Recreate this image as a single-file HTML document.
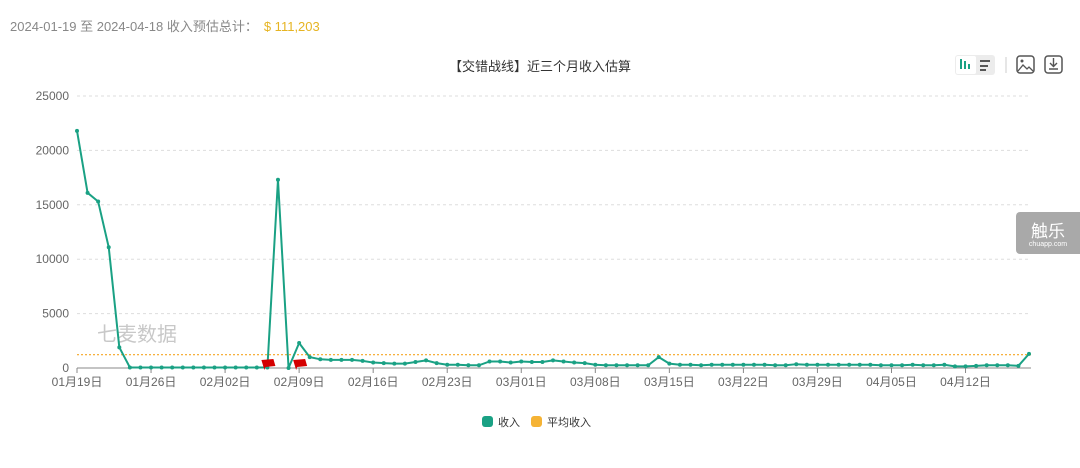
<!DOCTYPE html>
<html><head><meta charset="utf-8">
<style>
body{margin:0;background:#fff;font-family:"Liberation Sans","Noto Sans CJK SC",sans-serif;}
#wrap{position:relative;width:1080px;height:468px;overflow:hidden;}
.hdr{position:absolute;left:10px;top:16px;font-size:13px;color:#888;}
.hdr span{color:#e6b422;margin-left:6px;}
.badge{position:absolute;left:1016px;top:212px;width:64px;height:42px;background:#a9a9a9;border-radius:4px 0 0 4px;color:#fff;text-align:center;}
</style></head><body>
<div id="wrap">
<div class="hdr">2024-01-19 至 2024-04-18 收入预估总计：<span>$ 111,203</span></div>
<svg id="chart" width="1080" height="468" style="position:absolute;left:0;top:0"></svg>
<div class="badge"><div style="font-size:17px;margin-top:5px">触乐</div><div style="font-size:7px;margin-top:-1px">chuapp.com</div></div>
</div>
<script>
const revenue=[21800,16100,15300,11100,1900,50,50,50,50,50,50,50,50,50,50,50,50,50,50,17300,0,2300,1000,800,750,750,750,650,500,450,400,400,550,700,450,300,300,250,250,600,600,500,600,550,550,700,600,500,450,300,250,250,250,250,250,1000,400,300,300,250,300,300,300,300,300,300,250,250,350,300,300,300,300,300,300,300,250,250,250,300,250,250,300,150,150,200,250,250,250,200,1300];
const avgRevenue=1222;
const yTicks=[0,5000,10000,15000,20000,25000];
const xTickLabels=["01月19日","01月26日","02月02日","02月09日","02月16日","02月23日","03月01日","03月08日","03月15日","03月22日","03月29日","04月05日","04月12日"];
const xTickIdx=[0,7,14,21,28,35,42,49,56,63,70,77,84];
const flagIdx=[18,21];

const NS="http://www.w3.org/2000/svg";
const svg=document.getElementById('chart');
const X0=77,X1=1029,Y0=368,Y1=96,YMAX=25000;
const xs=i=>X0+(X1-X0)*i/(revenue.length-1);
const ys=v=>Y0-(Y0-Y1)*v/YMAX;
function mk(t,a,txt){const e=document.createElementNS(NS,t);for(const k in a)e.setAttribute(k,a[k]);if(txt!==undefined)e.textContent=txt;svg.appendChild(e);return e;}

let t=mk('text',{x:540,y:71,'text-anchor':'middle','font-size':13,fill:'#333'},'【交错战线】近三个月收入估算');



yTicks.forEach(v=>{
  if(v>0){const g=mk('line',{x1:X0,x2:1031,y1:ys(v),y2:ys(v),stroke:'#ddd','stroke-dasharray':'3,3'});
  
  }
  const l=mk('text',{x:69,y:ys(v)+4,'text-anchor':'end','font-size':12,fill:'#666'},String(v));
  
  
});
let ax=mk('line',{x1:X0,x2:1031,y1:Y0,y2:Y0,stroke:'#888'});


xTickIdx.forEach((idx,k)=>{
  const tk=mk('line',{x1:xs(idx),x2:xs(idx),y1:Y0,y2:Y0+5,stroke:'#888'});
  
  
  const l=mk('text',{x:xs(idx),y:386,'text-anchor':'middle','font-size':12,fill:'#666'},xTickLabels[k]);
  
  
});
let wm=mk('text',{x:97,y:341,'font-size':20,fill:'#c8c8c8'},'七麦数据');



let av=mk('line',{x1:X0,x2:1031,y1:ys(avgRevenue),y2:ys(avgRevenue),stroke:'#f5a623','stroke-width':1.2,'stroke-dasharray':'2,2'});



let pl=mk('polyline',{points:revenue.map((v,i)=>xs(i)+','+ys(v)).join(' '),fill:'none',stroke:'#1aa184','stroke-width':2});


revenue.forEach((v,i)=>{
  const c=mk('circle',{cx:xs(i),cy:ys(v),r:2,fill:'#1aa184'});
  
  
});
flagIdx.forEach(i=>{
  const x=xs(i)+1,y=Y0;
  const f=mk('path',{d:`M${x-4},${y+2} L${x-7},${y-8} L${x+5},${y-9} L${x+7},${y-2} L${x-3},${y-1} Z`,fill:'#d40000'});
  
  
});
// legend
let lg1=mk('rect',{x:482,y:416,width:11,height:11,rx:3,fill:'#1aa184'});


let lt1=mk('text',{x:498,y:426,'font-size':11,fill:'#333'},'收入');


let lg2=mk('rect',{x:531,y:416,width:11,height:11,rx:3,fill:'#f5b335'});


let lt2=mk('text',{x:547,y:426,'font-size':11,fill:'#333'},'平均收入');


// toolbar icons
let tb=mk('rect',{x:955,y:55,width:40,height:20,rx:3,fill:'#ececec'});


mk('rect',{x:956,y:56,width:20,height:18,rx:2,fill:'#fff'});
[[960,59,10],[964,61,8],[968,64,5]].forEach(b=>{const r=mk('rect',{x:b[0],y:b[1],width:2,height:b[2],fill:'#1aa184'});});
[[980,60,10],[980,65,8],[980,69,6]].forEach(b=>{const r=mk('rect',{x:b[0],y:b[1],width:b[2],height:2,fill:'#555'});});
mk('line',{x1:1006,x2:1006,y1:57,y2:73,stroke:'#ccc'});
let im=mk('rect',{x:1017,y:56,width:17,height:17,rx:3,fill:'none',stroke:'#555','stroke-width':1.5});


mk('path',{d:'M1018,71 L1023,65 L1027,69 L1029,67 L1033,71',fill:'none',stroke:'#555','stroke-width':1.3});
mk('circle',{cx:1022,cy:61,r:1.5,fill:'#555'});
let dl=mk('rect',{x:1045,y:56,width:17,height:17,rx:3,fill:'none',stroke:'#555','stroke-width':1.5});


mk('path',{d:'M1053.5,58 L1053.5,66 M1050,63 L1053.5,66.5 L1057,63 M1049,69 L1058,69',fill:'none',stroke:'#555','stroke-width':1.4});
</script>
</body></html>
